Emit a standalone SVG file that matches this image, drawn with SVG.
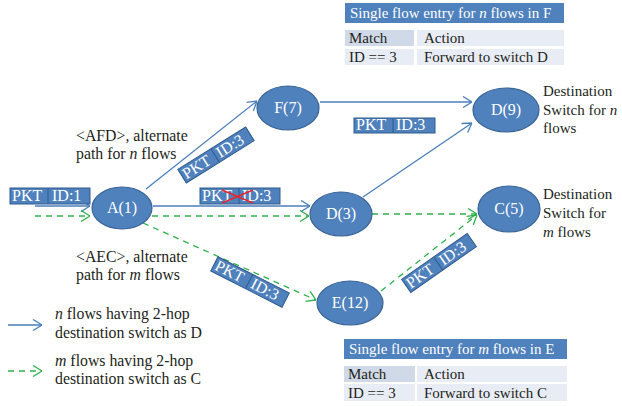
<svg xmlns="http://www.w3.org/2000/svg" width="622" height="406" viewBox="0 0 622 406">
  <defs>
    <style>
      .txt { font-family: "Liberation Serif", "Times New Roman", serif; font-size: 15px; fill: #231f20; }
      .lbl { font-family: "Liberation Serif", "Times New Roman", serif; font-size: 15.8px; fill: #231f20; }
      .wtxt { font-family: "Liberation Serif", "Times New Roman", serif; font-size: 15px; fill: #ffffff; }
      .pkt text { font-family: "Liberation Serif", "Times New Roman", serif; font-size: 16px; fill: #ffffff; }
      .node ellipse { fill: #4f81bd; stroke: #3b6496; stroke-width: 1.2; }
      .node text { font-family: "Liberation Serif", "Times New Roman", serif; font-size: 16px; fill: #ffffff; text-anchor: middle; }
      .blue { stroke: #4a7ebb; stroke-width: 1.3; fill: none; marker-end: url(#arrB); }
      .green { stroke: #2eb14b; stroke-width: 1.3; fill: none; stroke-dasharray: 6 5; marker-end: url(#arrG); }
      .pkt rect { fill: #4f81bd; stroke: #2f5a8f; stroke-width: 1; }
      .pkt line { stroke: #2f5a8f; stroke-width: 1; }
      .hdr { fill: #4f81bd; }
      .cellM { fill: #d0d9e7; }
      .cell { fill: #e8ecf4; }
    </style>
    <marker id="arrB" viewBox="0 0 10 12" refX="10" refY="6" markerWidth="10" markerHeight="12" markerUnits="userSpaceOnUse" orient="auto">
      <path d="M1,0.5 L10,6 L1,11.5" fill="none" stroke="#4a7ebb" stroke-width="1.3"/>
    </marker>
    <marker id="arrG" viewBox="0 0 10 12" refX="10" refY="6" markerWidth="10" markerHeight="12" markerUnits="userSpaceOnUse" orient="auto">
      <path d="M1,0.5 L10,6 L1,11.5" fill="none" stroke="#2eb14b" stroke-width="1.3"/>
    </marker>
  </defs>

  <rect width="622" height="406" fill="#ffffff"/>

  <!-- connectors -->
  <g id="connectors">
    <line class="blue" x1="35" y1="206" x2="90" y2="206"/>
    <line class="green" x1="35" y1="216" x2="90" y2="216"/>
    <line class="blue" x1="146" y1="189" x2="257" y2="101"/>
    <line class="blue" x1="320" y1="102" x2="472" y2="102"/>
    <line class="blue" x1="153" y1="206" x2="310" y2="206"/>
    <line class="green" x1="152" y1="216" x2="309" y2="216"/>
    <line class="blue" x1="363" y1="197" x2="472" y2="123"/>
    <line class="green" x1="372" y1="214" x2="477" y2="214"/>
    <line class="green" x1="143" y1="223" x2="316" y2="300"/>
    <line class="green" x1="381" y1="291" x2="477" y2="215"/>
    <!-- legend -->
    <line class="blue" x1="8" y1="325" x2="42" y2="325"/>
    <line class="green" x1="8" y1="371" x2="42" y2="371"/>
  </g>

  <!-- switches -->
  <g id="node-A" class="node"><ellipse cx="122" cy="208" rx="30" ry="21"/><text x="122" y="213">A(1)</text></g>
  <g id="node-F" class="node"><ellipse cx="288" cy="108" rx="31" ry="22"/><text x="288" y="113">F(7)</text></g>
  <g id="node-D9" class="node"><ellipse cx="506" cy="110" rx="33" ry="22"/><text x="506" y="115">D(9)</text></g>
  <g id="node-D3" class="node"><ellipse cx="341" cy="214" rx="31" ry="22"/><text x="341" y="219">D(3)</text></g>
  <g id="node-C" class="node"><ellipse cx="509" cy="209" rx="31" ry="23"/><text x="509" y="214">C(5)</text></g>
  <g id="node-E" class="node"><ellipse cx="350" cy="303" rx="33" ry="22"/><text x="350" y="308">E(12)</text></g>

  <!-- packet tags -->
  <g id="pkt-in" class="pkt">
    <rect x="10" y="188" width="80" height="16"/>
    <line x1="48" y1="188" x2="48" y2="204"/>
    <text x="12" y="201">PKT</text>
    <text x="52" y="201">ID:1</text>
  </g>
  <g id="pkt-drop" class="pkt">
    <rect x="200" y="188" width="80" height="16"/>
    <line x1="239" y1="188" x2="239" y2="204"/>
    <text x="202" y="201">PKT</text>
    <text x="242" y="201">ID:3</text>
    <line x1="222" y1="190" x2="253" y2="203" style="stroke:#e8262b;stroke-width:1.4"/>
    <line x1="222" y1="203" x2="253" y2="190" style="stroke:#e8262b;stroke-width:1.4"/>
  </g>
  <g id="pkt-fd" class="pkt">
    <rect x="354" y="118" width="81" height="15"/>
    <line x1="393" y1="118" x2="393" y2="133"/>
    <text x="356" y="130">PKT</text>
    <text x="396" y="130">ID:3</text>
  </g>
  <g id="pkt-af" class="pkt" transform="translate(216,155) rotate(-32)">
    <rect x="-40" y="-8" width="80" height="16"/>
    <line x1="-1" y1="-8" x2="-1" y2="8"/>
    <text x="-38" y="5">PKT</text>
    <text x="2" y="5">ID:3</text>
  </g>
  <g id="pkt-ae" class="pkt" transform="translate(250,282) rotate(27)">
    <rect x="-40" y="-8" width="80" height="16"/>
    <line x1="-1" y1="-8" x2="-1" y2="8"/>
    <text x="-38" y="5">PKT</text>
    <text x="2" y="5">ID:3</text>
  </g>
  <g id="pkt-ec" class="pkt" transform="translate(439,263) rotate(-35)">
    <rect x="-40" y="-8" width="80" height="16"/>
    <line x1="-1" y1="-8" x2="-1" y2="8"/>
    <text x="-38" y="5">PKT</text>
    <text x="2" y="5">ID:3</text>
  </g>

  <!-- path annotations -->
  <g id="labels">
    <text class="lbl" x="76" y="141">&lt;AFD&gt;, alternate</text>
    <text class="lbl" x="76" y="159">path for <tspan font-style="italic">n</tspan> flows</text>
    <text class="lbl" x="76" y="262">&lt;AEC&gt;, alternate</text>
    <text class="lbl" x="76" y="280">path for <tspan font-style="italic">m</tspan> flows</text>
    <text class="txt" x="543" y="96">Destination</text>
    <text class="txt" x="543" y="115">Switch for <tspan font-style="italic">n</tspan></text>
    <text class="txt" x="543" y="133">flows</text>
    <text class="txt" x="543" y="199">Destination</text>
    <text class="txt" x="543" y="218">Switch for</text>
    <text class="txt" x="543" y="237"><tspan font-style="italic">m</tspan> flows</text>
    <text class="lbl" x="55" y="319"><tspan font-style="italic">n</tspan> flows having 2-hop</text>
    <text class="lbl" x="55" y="338">destination switch as D</text>
    <text class="lbl" x="55" y="366"><tspan font-style="italic">m</tspan> flows having 2-hop</text>
    <text class="lbl" x="55" y="384">destination switch as C</text>
  </g>

  <!-- flow table at F -->
  <g id="table-F">
    <rect class="hdr" x="345" y="3" width="219" height="20"/>
    <text class="wtxt" x="350" y="18">Single flow entry for <tspan font-style="italic">n</tspan> flows in F</text>
    <rect class="cellM" x="345" y="30" width="69" height="16"/>
    <rect class="cell" x="417" y="30" width="147" height="16"/>
    <rect class="cell" x="345" y="49" width="69" height="16"/>
    <rect class="cell" x="417" y="49" width="147" height="16"/>
    <text class="txt" x="349" y="43">Match</text>
    <text class="txt" x="424" y="43">Action</text>
    <text class="txt" x="349" y="62">ID == 3</text>
    <text class="txt" x="424" y="62">Forward to switch D</text>
  </g>

  <!-- flow table at E -->
  <g id="table-E">
    <rect class="hdr" x="344" y="339" width="223" height="20"/>
    <text class="wtxt" x="349" y="354">Single flow entry for <tspan font-style="italic">m</tspan> flows in E</text>
    <rect class="cellM" x="344" y="366" width="71" height="16"/>
    <rect class="cell" x="417" y="366" width="150" height="16"/>
    <rect class="cell" x="344" y="384" width="71" height="17"/>
    <rect class="cell" x="417" y="384" width="150" height="17"/>
    <text class="txt" x="348" y="379">Match</text>
    <text class="txt" x="424" y="379">Action</text>
    <text class="txt" x="348" y="398">ID == 3</text>
    <text class="txt" x="424" y="398">Forward to switch C</text>
  </g>
</svg>
